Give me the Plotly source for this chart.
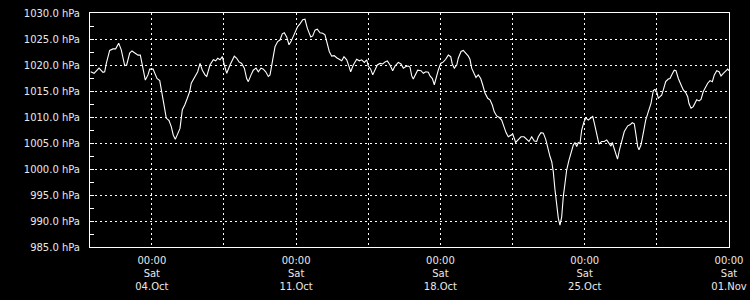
import pandas as pd
import plotly.graph_objects as go

# Hours since 2025-10-01 00:00 and station pressure (hPa)
hours = [0.8, 4.7, 10.5, 15.1, 17.1, 19.0, 22.9, 26.8, 29.9, 33.4, 36.4, 40.4, 42.7, 46.2, 48.9, 52.0, 55.9, 58.6, 59.7, 62.5,
         64.4, 67.5, 69.5, 73.4, 75.3, 78.0, 81.2, 83.8, 86.2, 88.8, 92.0, 94.7, 97.0, 99.3, 101.6, 104.8, 107.5, 110.3, 113.3, 116.1,
         117.9, 121.9, 125.4, 128.1, 130.8, 133.9, 135.9, 139.7, 143.6, 146.4, 148.7, 151.4, 154.1, 156.4, 159.2, 163.0, 168.0, 170.8, 173.5, 176.6,
         179.7, 182.4, 184.3, 187.5, 190.1, 193.3, 196.0, 199.1, 201.8, 204.6, 207.6, 209.6, 211.6, 215.4, 218.5, 221.2, 223.9, 226.2, 229.0, 231.7,
         234.0, 235.5, 238.7, 241.8, 244.5, 247.7, 250.3, 253.0, 257.0, 259.3, 262.0, 264.6, 267.8, 270.9, 273.6, 276.3, 278.6, 281.4, 284.4, 287.2,
         290.3, 293.1, 295.7, 298.9, 301.6, 303.5, 306.6, 310.5, 313.6, 316.3, 319.4, 322.2, 324.0, 326.8, 329.2, 331.8, 334.5, 337.7, 340.8, 343.5,
         346.2, 349.3, 352.4, 355.1, 359.0, 362.1, 364.8, 367.9, 370.6, 372.6, 374.6, 376.4, 379.2, 381.5, 385.4, 388.1, 390.9, 393.9, 395.9, 398.6,
         400.9, 403.7, 405.5, 408.3, 411.4, 414.1, 417.2, 420.0, 421.8, 424.2, 427.0, 428.8, 432.0, 434.6, 437.4, 440.5, 442.4, 444.4, 447.1, 449.4,
         452.1, 454.9, 457.2, 459.9, 463.1, 465.7, 468.4, 470.7, 473.5, 476.6, 479.3, 482.0, 484.4, 487.0, 490.2, 492.2, 495.6, 498.7, 501.8, 505.3,
         508.5, 511.1, 514.3, 517.3, 520.1, 522.0, 525.1, 527.8, 530.6, 532.9, 535.6, 537.6, 539.4, 541.4, 543.4, 545.3, 547.2, 549.2, 551.1, 553.1,
         555.0, 557.7, 560.0, 562.7, 564.7, 566.7, 568.5, 570.5, 572.5, 575.2, 577.5, 580.2, 583.0, 585.3, 587.2, 590.0, 592.6, 595.8, 598.8, 601.6,
         604.3, 606.6, 608.1, 610.4, 614.2, 616.5, 619.1, 622.1, 626.1, 628.7, 631.4, 633.7, 635.4, 637.7, 639.2, 641.5, 644.2, 647.0, 650.0, 653.2,
         655.9, 657.8, 659.8, 661.7, 663.7, 665.6, 667.5, 670.3, 673.3, 675.3, 678.0, 680.3, 682.3, 685.0, 688.1, 690.8, 693.6, 695.9, 697.4, 699.8,
         702.4, 704.4, 706.4, 709.1, 711.4, 714.1, 716.9, 719.2, 721.9, 724.6, 726.9, 729.7, 732.4, 734.7, 737.4, 740.2, 742.5, 744.0]
pressure = [1018.7, 1018.4, 1019.4, 1018.6, 1018.7, 1020.3, 1022.8, 1023.1, 1023.1, 1024.2, 1022.9, 1019.9, 1020.0, 1022.3, 1022.7, 1022.3, 1021.9, 1021.9, 1021.0, 1018.7,
            1017.1, 1018.1, 1019.2, 1019.2, 1018.5, 1017.4, 1017.0, 1014.9, 1012.3, 1009.8, 1009.3, 1008.1, 1006.5, 1005.7, 1006.7, 1007.8, 1011.4, 1012.3, 1013.6, 1014.9,
            1016.5, 1017.8, 1018.7, 1020.3, 1019.0, 1018.1, 1017.8, 1020.0, 1021.0, 1020.8, 1021.3, 1021.0, 1021.6, 1020.0, 1018.4, 1020.0, 1021.7, 1021.3, 1020.6, 1020.3,
            1019.4, 1017.4, 1016.8, 1018.1, 1019.0, 1019.4, 1018.7, 1019.4, 1019.2, 1018.7, 1017.8, 1018.1, 1020.3, 1023.5, 1024.5, 1024.8, 1026.0, 1026.2, 1025.4, 1023.9,
            1024.5, 1025.1, 1026.4, 1027.4, 1027.9, 1028.7, 1028.8, 1027.1, 1025.4, 1025.6, 1026.7, 1026.9, 1026.2, 1026.1, 1025.8, 1024.2, 1022.6, 1021.7, 1021.8, 1021.4,
            1021.0, 1020.8, 1021.6, 1021.0, 1019.7, 1018.7, 1020.0, 1021.1, 1020.8, 1021.0, 1020.5, 1021.0, 1019.8, 1019.2, 1018.1, 1019.0, 1020.0, 1020.3, 1020.2, 1020.6,
            1020.8, 1020.0, 1018.9, 1019.8, 1020.5, 1020.2, 1019.4, 1019.7, 1019.8, 1019.6, 1017.9, 1017.3, 1018.4, 1019.0, 1018.9, 1018.4, 1018.7, 1018.6, 1017.9, 1017.4,
            1016.2, 1018.1, 1019.0, 1020.3, 1020.6, 1021.1, 1021.9, 1021.6, 1020.2, 1019.4, 1020.0, 1021.3, 1022.6, 1022.8, 1022.3, 1021.7, 1021.1, 1019.4, 1018.4, 1017.6,
            1018.1, 1017.4, 1016.2, 1014.6, 1013.6, 1013.3, 1012.3, 1011.0, 1010.2, 1009.9, 1009.4, 1008.0, 1007.0, 1006.2, 1006.6, 1006.7, 1005.1, 1005.6, 1006.2, 1006.2,
            1005.6, 1005.3, 1006.2, 1005.4, 1005.3, 1006.2, 1007.0, 1006.9, 1005.7, 1004.0, 1002.4, 1001.4, 999.5, 996.0, 992.8, 990.5, 989.2, 990.8, 994.7, 997.9,
            999.8, 1001.7, 1003.0, 1004.6, 1005.1, 1004.3, 1005.1, 1004.9, 1007.5, 1009.1, 1009.8, 1009.4, 1009.8, 1010.1, 1008.8, 1006.5, 1004.8, 1005.3, 1005.3, 1005.6,
            1004.9, 1004.4, 1005.1, 1004.0, 1001.9, 1003.7, 1005.6, 1007.2, 1008.3, 1008.5, 1008.9, 1008.7, 1006.9, 1004.3, 1003.7, 1004.6, 1006.9, 1009.4, 1011.0, 1012.6,
            1015.1, 1015.3, 1014.9, 1013.6, 1013.9, 1014.2, 1015.2, 1016.8, 1017.3, 1017.4, 1018.3, 1019.0, 1018.9, 1017.4, 1016.2, 1015.2, 1014.7, 1013.9, 1012.6, 1011.7,
            1012.0, 1012.8, 1013.3, 1013.1, 1013.4, 1014.9, 1015.8, 1016.5, 1017.0, 1016.8, 1018.1, 1018.9, 1018.7, 1017.9, 1018.4, 1018.9, 1019.2, 1018.9]

start = pd.Timestamp("2025-10-01 00:00")
end = pd.Timestamp("2025-11-01 00:00")
times = start + pd.to_timedelta(hours, unit="h")

x_tickvals = ["2025-10-04 00:00", "2025-10-07 12:00", "2025-10-11 00:00", "2025-10-14 12:00",
              "2025-10-18 00:00", "2025-10-21 12:00", "2025-10-25 00:00", "2025-10-28 12:00",
              "2025-11-01 00:00"]
x_ticktext = ["00:00<br>Sat<br>04.Oct", "", "00:00<br>Sat<br>11.Oct", "",
              "00:00<br>Sat<br>18.Oct", "", "00:00<br>Sat<br>25.Oct", "",
              "00:00<br>Sat<br>01.Nov"]
y_tickvals = [985, 990, 995, 1000, 1005, 1010, 1015, 1020, 1025, 1030]
y_ticktext = ["985.0 hPa", "990.0 hPa", "995.0 hPa", "1000.0 hPa", "1005.0 hPa",
              "1010.0 hPa", "1015.0 hPa", "1020.0 hPa", "1025.0 hPa", "1030.0 hPa"]

font = dict(family="DejaVu Sans", size=10, color="#e8e8e8")

fig = go.Figure()
fig.add_trace(go.Scatter(x=times, y=pressure, mode="lines",
                         line=dict(color="white", width=1.1), hoverinfo="skip"))

fig.update_layout(
    width=750, height=300,
    margin=dict(l=90, r=21, t=13, b=53),
    paper_bgcolor="black", plot_bgcolor="black",
    showlegend=False, font=font,
)
fig.update_xaxes(
    range=[start, end], tickmode="array", tickvals=x_tickvals, ticktext=x_ticktext,
    showgrid=True, gridcolor="white", gridwidth=1, griddash="2px,3px",
    showline=True, linecolor="white", linewidth=1, mirror=True,
    ticks="", tickfont=font, zeroline=False, ticklabelstandoff=4, automargin=False,
)
fig.update_yaxes(
    range=[985, 1030], tickmode="array", tickvals=y_tickvals, ticktext=y_ticktext,
    showgrid=True, gridcolor="white", gridwidth=1, griddash="2px,3px",
    showline=True, linecolor="white", linewidth=1, mirror=True,
    ticks="inside", ticklen=4, tickcolor="white",
    minor=dict(dtick=2.5, tick0=985, ticks="inside", ticklen=4, tickcolor="white", showgrid=False),
    tickfont=font, zeroline=False, ticklabelstandoff=7, automargin=False,
)

fig.write_html("out.html")
